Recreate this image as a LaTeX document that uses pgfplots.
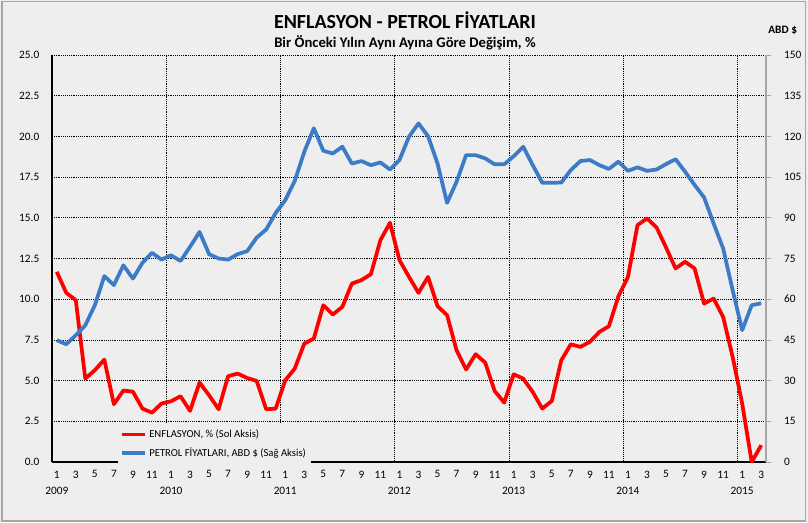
\documentclass[border=0pt]{standalone}
\usepackage{fontspec}
\setmainfont{Carlito}
\usepackage{pgfplots}
\pgfplotsset{compat=1.18}
\definecolor{bg}{HTML}{EEEEEE}
\definecolor{frame}{HTML}{A6A6A6}
\definecolor{oilblue}{HTML}{3D7BC6}
\definecolor{cpired}{HTML}{FF0000}

\pgfplotstableread{
i v
0 11.68
1 10.39
2 9.94
3 5.12
4 5.64
5 6.29
6 3.55
7 4.39
8 4.32
9 3.28
10 3.03
11 3.59
12 3.73
13 4.04
14 3.14
15 4.88
16 4.10
17 3.24
18 5.27
19 5.43
20 5.16
21 4.98
22 3.24
23 3.28
24 5.02
25 5.74
26 7.27
27 7.58
28 9.63
29 9.06
30 9.53
31 10.96
32 11.17
33 11.54
34 13.63
35 14.69
36 12.40
37 11.37
38 10.39
39 11.37
40 9.57
41 9.02
42 6.86
43 5.68
44 6.62
45 6.11
46 4.36
47 3.65
48 5.39
49 5.12
50 4.30
51 3.28
52 3.75
53 6.25
54 7.23
55 7.07
56 7.38
57 7.99
58 8.34
59 10.18
60 11.37
61 14.55
62 14.96
63 14.41
64 13.18
65 11.89
66 12.30
67 11.89
68 9.73
69 10.04
70 8.91
71 6.45
72 3.59
73 0.00
74 1.03
}\enflasyon

\pgfplotstableread{
i v
0 44.9
1 43.4
2 46.7
3 50.4
4 57.8
5 68.5
6 65.2
7 72.5
8 67.6
9 73.4
10 77.1
11 74.6
12 76.2
13 74.1
14 79.3
15 84.8
16 76.6
17 75.0
18 74.6
19 76.6
20 77.7
21 82.7
22 85.7
23 91.8
24 96.5
25 103.6
26 114.3
27 123.0
28 114.7
29 113.7
30 116.2
31 110.0
32 110.9
33 109.4
34 110.4
35 107.8
36 111.3
37 119.9
38 124.8
39 120.1
40 110.0
41 95.5
42 103.3
43 113.1
44 113.1
45 111.9
46 109.7
47 109.7
48 112.7
49 116.2
50 109.4
51 102.9
52 102.9
53 103.0
54 107.6
55 110.9
56 111.3
57 109.4
58 108.0
59 110.7
60 107.3
61 108.6
62 107.3
63 107.8
64 109.8
65 111.6
66 107.0
67 102.1
68 97.5
69 87.9
70 78.7
71 63.3
72 48.6
73 57.8
74 58.5
}\petrol

\begin{document}
\begin{tikzpicture}
\fill[bg] (0,0) rectangle (606pt,391.5pt);
\draw[frame, line width=1.2pt] (1.5pt,0.8pt) rectangle (604pt,390.5pt);
\useasboundingbox (0,0) rectangle (606pt,391.5pt);

\node[font=\fontsize{15}{17}\selectfont\bfseries] at (303.75pt,376.5pt) {ENFLASYON - PETROL FİYATLARI};
\node[font=\fontsize{11}{13}\selectfont\bfseries] at (303.75pt,359.5pt) {Bir Önceki Yılın Aynı Ayına Göre Değişim, \%};
\node[font=\fontsize{8.5}{10}\selectfont\bfseries] at (587pt,369pt) {ABD \$};

% left axis: inflation
\begin{axis}[
  at={(39pt,45pt)}, anchor=south west,
  scale only axis, width=535.5pt, height=305.25pt,
  xmin=-0.5, xmax=74.5, ymin=0, ymax=25,
  axis x line*=bottom, axis y line*=left,
  x axis line style={black, line width=2pt},
  y axis line style={black, line width=1.3pt},
  xtick={0,2,...,74},
  xticklabels={{1\\2009},3,5,7,9,11,{1\\2010},3,5,7,9,11,{1\\2011},3,5,7,9,11,{1\\2012},3,5,7,9,11,{1\\2013},3,5,7,9,11,{1\\2014},3,5,7,9,11,{1\\2015},3},
  xticklabel style={align=center, font=\fontsize{8.5}{12.5}\selectfont, yshift=-3pt},
  xtick style={draw=none},
  extra x ticks={11.5,23.5,35.5,47.5,59.5,71.5},
  extra x tick labels={},
  extra x tick style={grid=major, tick style={draw=none}},
  ytick={0,2.5,...,25},
  yticklabel style={font=\fontsize{8.5}{10}\selectfont, xshift=-6pt},
  ytick style={draw=none},
  ymajorgrids,
  grid style={black, densely dotted, line width=0.6pt},
  /pgf/number format/.cd, fixed, fixed zerofill, precision=1, assume math mode=true,
  /pgfplots/.cd,
  legend style={at={(0.092,0.093)}, anchor=north west, fill=bg, draw=none,
    font=\fontsize{8}{9.5}\selectfont, row sep=2pt, inner sep=2pt},
  legend cell align=left,
  legend image code/.code={\draw[#1, line width=2.5pt] (0pt,0pt) -- (17pt,0pt);},
]
\addplot[cpired, line width=2.8pt, line join=round] table[x=i, y=v] {\enflasyon};
\addlegendentry{ENFLASYON, \% (Sol Aksis)}
\addlegendimage{oilblue, line width=2.8pt}
\addlegendentry{PETROL FİYATLARI, ABD \$ (Sağ Aksis)}
\end{axis}

% right axis: oil price
\begin{axis}[
  at={(39pt,45pt)}, anchor=south west,
  scale only axis, width=535.5pt, height=305.25pt,
  xmin=-0.5, xmax=74.5, ymin=0, ymax=150,
  axis x line=none, axis y line*=right,
  y axis line style={gray!70, line width=0.8pt},
  ytick={0,15,...,150},
  tick align=outside, major tick length=4pt,
  ytick style={gray!70, line width=0.6pt},
  yticklabel style={font=\fontsize{8.5}{10}\selectfont, xshift=6pt},
  /pgf/number format/assume math mode=true,
]
\addplot[oilblue, line width=2.8pt, line join=round] table[x=i, y=v] {\petrol};
\end{axis}
\end{tikzpicture}
\end{document}
